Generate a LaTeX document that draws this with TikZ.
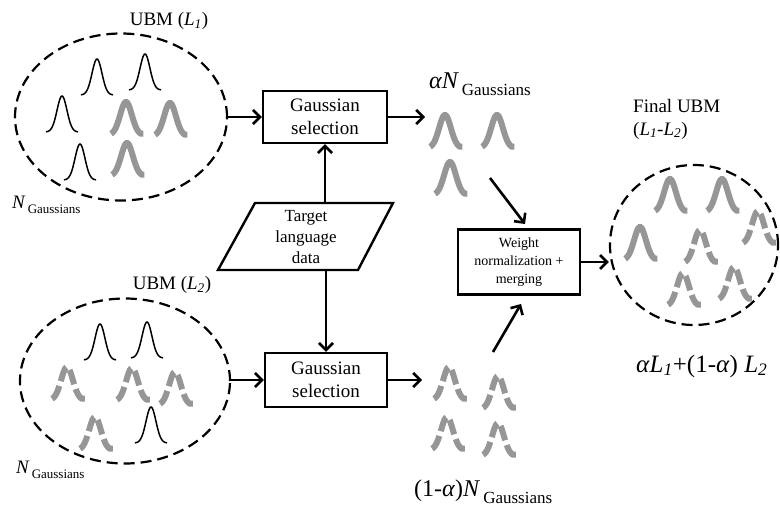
\documentclass[tikz,border=0pt]{standalone}
\usepackage{fontspec}
\setmainfont{Liberation Serif}
\usetikzlibrary{arrows.meta,shapes.geometric}
\definecolor{bellgray}{RGB}{150,150,150}
\tikzset{
  ell/.style={draw, ellipse, dash pattern=on 11pt off 6pt, line width=2.2pt, inner sep=0pt},
  procbox/.style={draw, line width=2.4pt, align=center, inner sep=0pt},
  arr/.style={line width=2.6pt, -{Straight Barb[length=7pt,width=14pt]}},
  bellblack/.pic={\draw[line width=1.5pt] plot[domain=-2.3:2.3, samples=40, smooth] (\x*7, {-36*exp(-\x*\x)});},
  bellsolid/.pic={\draw[line width=6pt, bellgray] plot[domain=-1.8:1.8, samples=40, smooth] (\x*8.3, {-33*exp(-\x*\x)}) -- ++(2.5,0);},
  belldash/.pic={\draw[line width=6pt, bellgray, dash pattern=on 15pt off 5pt] plot[domain=-1.8:1.8, samples=40, smooth] (\x*8.3, {-33*exp(-\x*\x)}) -- ++(3,0);},
  lbl/.style={inner sep=0pt, font=\fontsize{19}{23}\selectfont}
}
\newcommand{\Lsub}[1]{\textit{L}\textsubscript{\textit{#1}}}
\begin{document}
\begin{tikzpicture}[x=1pt,y=-1pt]
\useasboundingbox (0,0) rectangle (780,506);

% ellipses
\node[ell, minimum width=212pt, minimum height=167pt] (e1) at (121,117) {};
\node[ell, minimum width=210pt, minimum height=165pt] (e2) at (125,381) {};
\node[ell, minimum width=168pt, minimum height=160pt] (e3) at (694,245) {};

% labels of ellipses
\node[lbl] (u1) at (169,21) {UBM (\Lsub{1})};
\node[lbl] (u2) at (172,285) {UBM (\Lsub{2})};
\node[lbl, anchor=base west] (n1) at (12,208) {\fontsize{19}{20}\selectfont\textit{N}\hspace{2pt}\raisebox{-5pt}{\fontsize{13}{14}\selectfont Gaussians}};
\node[lbl, anchor=base west] (n2) at (16,473) {\fontsize{19}{20}\selectfont\textit{N}\hspace{2pt}\raisebox{-5pt}{\fontsize{13}{14}\selectfont Gaussians}};
\node[lbl, anchor=base west, align=left] (fu) at (633,135) {Final UBM\\(\Lsub{1}-\Lsub{2})};
\node[lbl, anchor=base west] (mix) at (636,372) {\fontsize{25}{28}\selectfont\textit{α}\Lsub{1}+(1-\textit{α}) \Lsub{2}};
\node[lbl, anchor=base west] (an) at (429,88) {\fontsize{24}{26}\selectfont\textit{αN}\hspace{3pt}\raisebox{-7pt}{\fontsize{17}{19}\selectfont Gaussians}};
\node[lbl, anchor=base west] (bn) at (414,496) {\fontsize{24}{26}\selectfont(1-\textit{α})\textit{N}\hspace{3pt}\raisebox{-7pt}{\fontsize{17}{19}\selectfont Gaussians}};

% bells in top ellipse
\pic at (97,95) {bellblack};
\pic at (145,90) {bellblack};
\pic at (62,132) {bellblack};
\pic at (80,180) {bellblack};
\pic at (126,135) {bellsolid};
\pic at (170,136) {bellsolid};
\pic at (127,176) {bellsolid};

% bells in bottom ellipse
\pic at (100,360) {bellblack};
\pic at (147,358) {bellblack};
\pic at (151,443) {bellblack};
\pic at (67,400) {belldash};
\pic at (132,401) {belldash};
\pic at (175,405) {belldash};
\pic at (95,450) {belldash};

% alpha N group
\pic at (445,148) {bellsolid};
\pic at (497,148) {bellsolid};
\pic at (450,195) {bellsolid};

% (1-alpha) N group
\pic at (449,400) {belldash};
\pic at (498,409) {belldash};
\pic at (447,450) {belldash};
\pic at (498,456) {belldash};

% bells in final ellipse
\pic at (670,212) {bellsolid};
\pic at (722,212) {bellsolid};
\pic at (640,260) {bellsolid};
\pic at (700,263) {belldash};
\pic at (758,244) {belldash};
\pic at (683,306) {belldash};
\pic at (734,300) {belldash};

% process boxes
\node[procbox, minimum width=124pt, minimum height=52pt, font=\fontsize{19}{23}\selectfont] (b1) at (325,117) {Gaussian\\selection};
\node[procbox, minimum width=122pt, minimum height=54pt, font=\fontsize{19}{23}\selectfont] (b2) at (326,380) {Gaussian\\selection};
\node[procbox, minimum width=122pt, minimum height=65pt, font=\fontsize{14}{18}\selectfont] (b3) at (519,262) {Weight\\normalization +\\merging};

% target data parallelogram
\node[inner sep=0pt, minimum height=67pt, align=center, font=\fontsize{17}{21}\selectfont] (td) at (306,237) {Target\\language\\data};
\draw[line width=2.4pt] (255,203) -- (393,203) -- (358,270) -- (218,270) -- cycle;

% coordinates for free ends
\coordinate (ga) at (425,117);
\coordinate (gb) at (422,380);
\coordinate (fa) at (490,178);
\coordinate (fa2) at (525,224);
\coordinate (fb) at (493,352);
\coordinate (fb2) at (521,304);

% connectors
\draw[arr] (e1.east |- b1.west) -- (b1.west);
\draw[arr] (e2.east |- b2.west) -- (b2.west);
\draw[arr] (b1.east) -- (ga);
\draw[arr] (b2.east) -- (gb);
\draw[arr] (b1.south |- td.north) -- (b1.south);
\draw[arr] (b2.north |- td.south) -- (b2.north);
\draw[arr] (fa) -- (fa2);
\draw[arr] (fb) -- (fb2);
\draw[arr] (b3.east) -- (b3.east -| e3.west);
\end{tikzpicture}
\end{document}
